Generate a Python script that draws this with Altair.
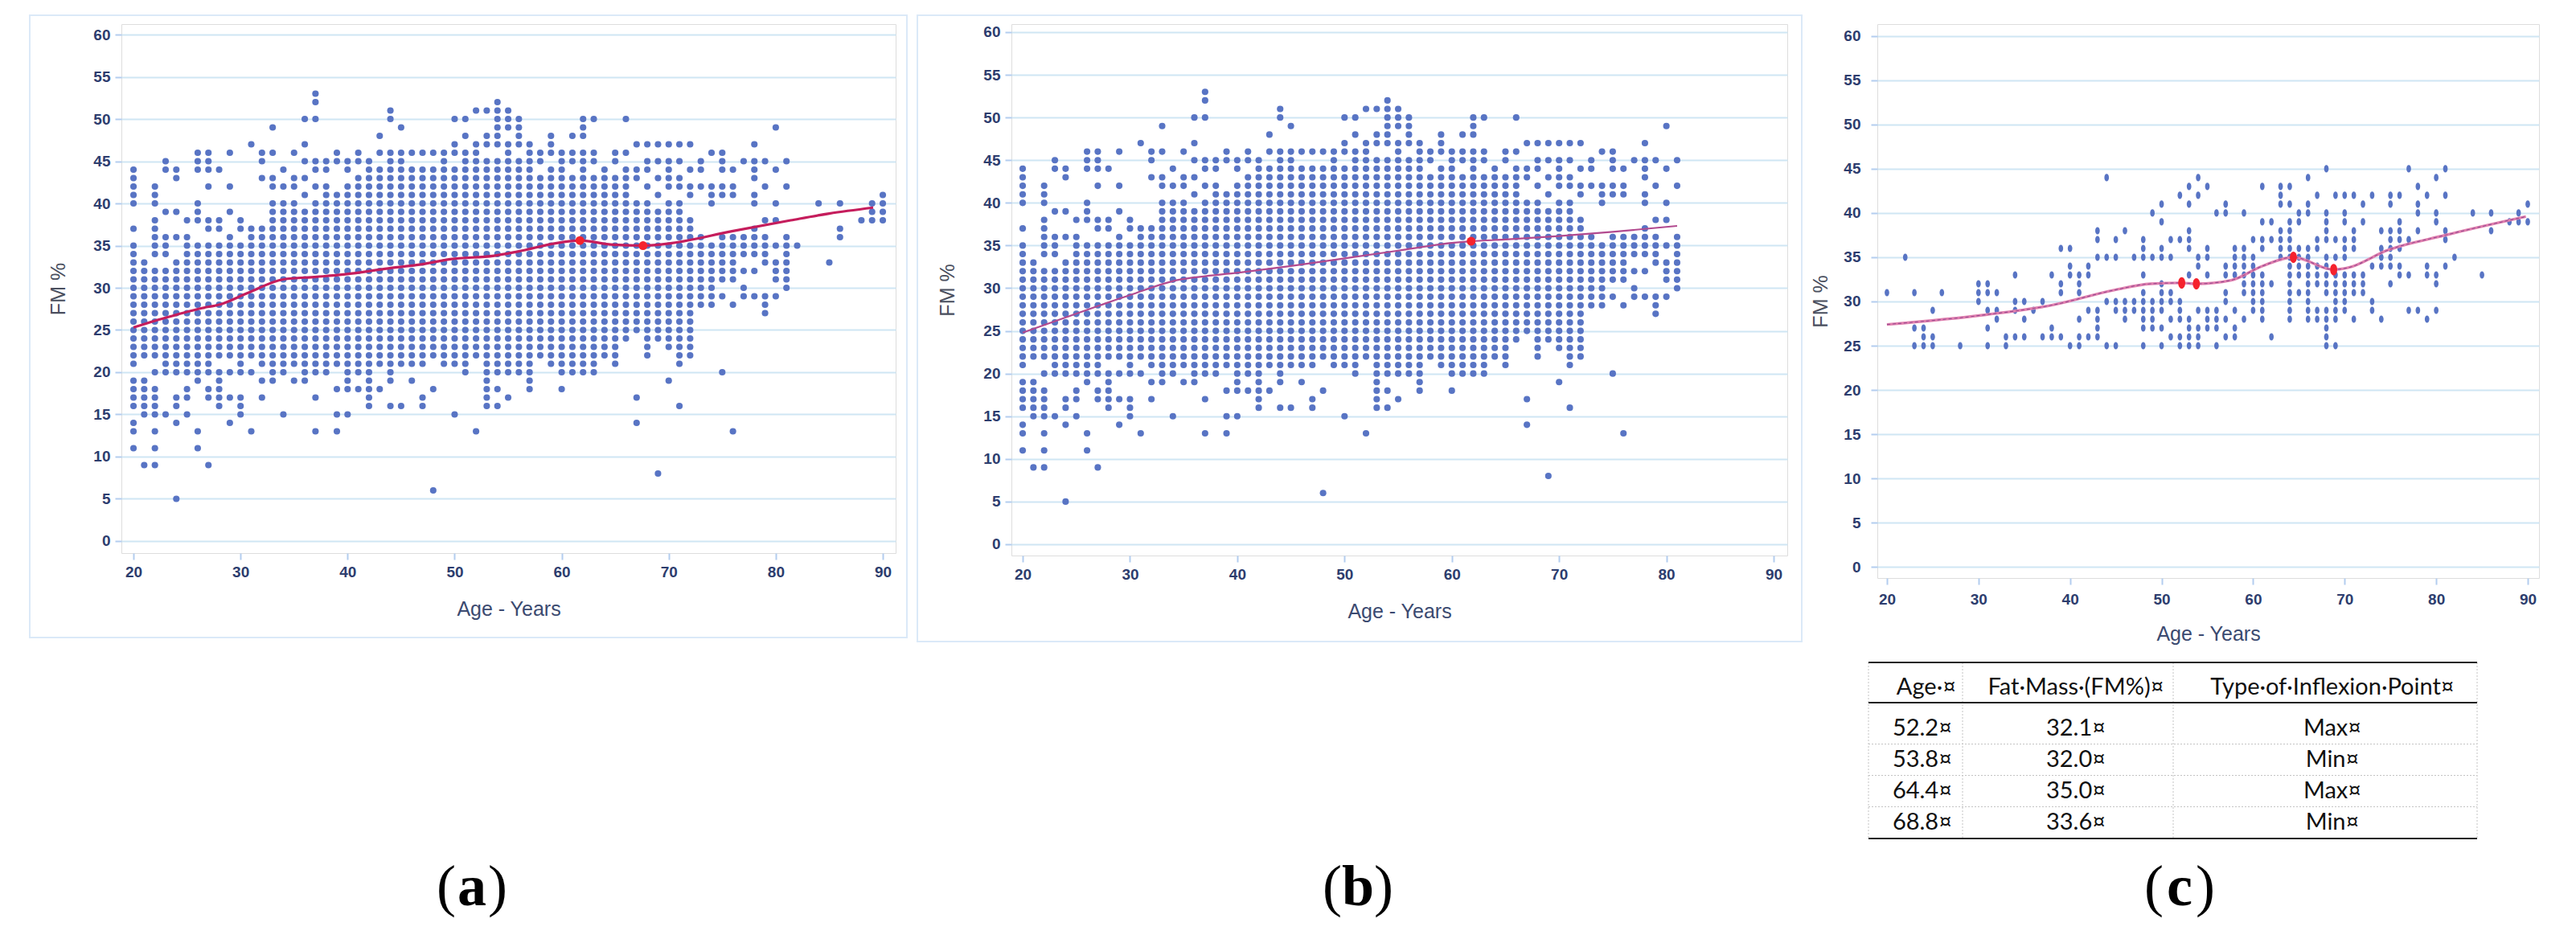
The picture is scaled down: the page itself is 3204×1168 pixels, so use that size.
import altair as alt
import pandas as pd

# ---------------- Panel (a) / (b) scatter, read per age column ----------------
AGES = list(range(20, 82)) + [82, 84, 85, 86, 88, 89, 90]
CORE_LO = [21, 22, 23, 21, 21, 21, 22, 23, 23, 23, 22, 23, 21, 20, 22, 21, 21, 21, 22, 21,
           21, 21, 19, 21, 21, 21, 22, 22, 22, 22, 22, 21, 23, 20, 22, 23, 21, 20, 22, 22,
           21, 22, 21, 21, 23, 22, 24, 25, 23, 24, 23, 22, 22, 28, 29, 31, 31, 34, 34, 33,
           31, 31] + [None] * 7
CORE_HI = [35, 33, 32, 32, 33, 36, 35, 35, 35, 36, 35, 37, 37, 40, 40, 40, 39, 40, 40, 41,
           42, 42, 44, 44, 45, 45, 44, 44, 44, 45, 44, 46, 45, 45, 45, 47, 45, 44, 43, 44,
           43, 43, 44, 43, 42, 42, 42, 40, 40, 39, 40, 40, 38, 36, 35, 36, 36, 36, 37, 36,
           33, 36] + [None] * 7
EXTRA = [
    [37, 40, 41, 42, 43, 44, 19, 18, 17, 16, 14, 13, 11],          # 20
    [19, 18, 17, 16, 15, 9],                                        # 21
    [34, 35, 36, 37, 38, 40, 41, 42, 22, 20, 18, 17, 16, 15, 13, 11, 9],
    [34, 35, 36, 39, 44, 45, 20, 15],
    [36, 39, 43, 44, 20, 17, 16, 14, 5],
    [38, 20, 18, 17, 15],                                           # 25
    [38, 39, 40, 44, 45, 46, 21, 20, 19, 13, 11],
    [37, 38, 42, 44, 45, 46, 22, 21, 20, 18, 17, 9],
    [37, 38, 44, 22, 20, 19, 18, 17, 16],
    [39, 42, 46, 22, 20, 17, 14],
    [37, 38, 21, 20, 17, 16, 15],                                   # 30
    [47, 22, 20, 13],
    [43, 45, 46, 19, 17],
    [42, 43, 46, 49, 19],
    [42, 44, 21, 20, 15],
    [42, 43, 46, 19],                                               # 35
    [41, 43, 45, 47, 50, 20, 19],
    [42, 44, 45, 50, 52, 53, 20, 17, 13],
    [41, 42, 44, 45, 21, 20],
    [45, 46, 18, 15, 13],
    [44, 45, 20, 19, 18, 15],                                       # 40
    [43, 45, 46, 20, 18],
    [45, 18, 17, 16],
    [46, 48, 18],
    [46, 50, 51, 20, 19, 16],
    [46, 49, 16],                                                   # 45
    [46, 21, 19],
    [46, 21, 17, 16],
    [46, 18, 6],
    [46, 21],
    [46, 47, 50, 21, 15],                                           # 50
    [48, 50, 20],
    [46, 47, 51, 22, 13],
    [47, 48, 51, 19, 18, 17, 16],
    [47, 48, 49, 50, 51, 52, 21, 20, 18, 16],
    [49, 50, 51, 22, 21, 20, 17],                                   # 55
    [47, 48, 49, 50, 20],
    [45, 46, 47, 19, 18],
    [45, 46],
    [46, 47, 48, 21],
    [44, 45, 46, 20, 18],                                           # 60
    [45, 46, 48, 21, 20],
    [45, 46, 48, 49, 50, 20],
    [45, 46, 50, 20],
    [43, 44, 22],
    [43, 45, 46, 21],                                               # 65
    [43, 44, 46, 50],
    [43, 44, 47, 17, 14],
    [42, 44, 45, 47, 22],
    [41, 43, 45, 47, 8],
    [42, 43, 44, 45, 47, 19],                                       # 70
    [42, 43, 45, 47, 21, 16],
    [41, 42, 44, 47],
    [42, 44, 45],
    [40, 41, 42, 46, 28],
    [41, 42, 44, 45, 46, 29, 20],                                   # 75
    [41, 42, 44, 28, 13],
    [45, 32, 30, 29],
    [40, 41, 43, 44, 45, 47, 32, 29],
    [38, 42, 45, 29, 28, 27],
    [35, 38, 40, 44, 49, 29],                                       # 80
    [42, 45, 30],
    [35],                                                           # 82
    [40],                                                           # 84
    [33],                                                           # 85
    [40, 37, 36],                                                   # 86
    [38],                                                           # 88
    [40, 39, 38],                                                   # 89
    [41, 40, 39, 38],                                               # 90
]
B_MAX_AGE = 81

# smoothed curves and inflexion points
LINE_A_AGE = [20, 22, 24, 26.4, 28, 30.7, 34, 37.1, 39.8, 43.8, 47, 49.6, 53.7, 55.9, 60,
              61.7, 64.8, 67.6, 70.3, 75.9, 81.4, 85, 89.1]
LINE_A_FM = [25.3, 26.1, 26.8, 27.6, 28.0, 29.4, 31.0, 31.3, 31.6, 32.3, 32.8, 33.4, 33.8,
             34.3, 35.4, 35.6, 35.1, 35.0, 35.3, 36.7, 38.0, 38.8, 39.5]
RED_A_AGE = [61.7, 67.6]
RED_A_FM = [35.6, 35.0]

LINE_B_AGE = [20, 27.2, 30, 34.6, 37, 40.6, 45, 50, 55, 60, 61.8, 65, 70, 75, 81]
LINE_B_FM = [24.8, 28.0, 29.2, 31.0, 31.4, 31.9, 32.6, 33.5, 34.4, 35.3, 35.5, 35.7, 36.1,
             36.6, 37.3]
RED_B_AGE = [61.8]
RED_B_FM = [35.5]

# ---------------- Panel (c) scatter, read per FM row ----------------
C_FM = [45, 44, 43, 42, 41, 40, 39, 38, 37, 36, 35, 34, 33, 32, 31, 30, 29, 28, 27, 26, 25]
C_AGES = [
    [68, 77, 81],
    [44, 54, 66, 80],
    [53, 55, 61, 63, 64, 78],
    [52, 54, 63, 67, 69, 70, 71, 73, 75, 76, 79, 81],
    [50, 53, 57, 63, 64, 66, 72, 75, 78, 90],
    [49, 56, 57, 59, 65, 66, 68, 70, 78, 80, 84, 86, 89],
    [50, 61, 62, 64, 65, 68, 70, 72, 76, 80, 88, 89, 90],
    [43, 46, 53, 63, 64, 68, 71, 74, 75, 76, 78, 81, 86],
    [43, 45, 48, 51, 52, 53, 60, 61, 62, 63, 64, 67, 68, 69, 70, 71, 75, 76, 77, 81],
    [39, 40, 48, 50, 53, 55, 58, 59, 61, 63, 64, 65, 66, 67, 70, 71, 74, 75, 76],
    [22, 43, 44, 45, 47, 48, 49, 50, 51, 54, 55, 58, 59, 60, 63, 64, 65, 66, 68, 69, 70, 74,
     75, 82],
    [40, 42, 54, 57, 58, 59, 60, 64, 65, 66, 67, 68, 73, 74, 75, 76, 79, 81],
    [34, 38, 40, 41, 42, 48, 53, 55, 57, 58, 59, 60, 61, 64, 65, 66, 67, 68, 69, 70, 71, 72,
     76, 77, 79, 80, 85],
    [30, 31, 39, 41, 50, 59, 60, 61, 62, 64, 66, 67, 68, 69, 70, 71, 72, 75, 80],
    [20, 23, 26, 30, 31, 32, 39, 41, 48, 50, 51, 57, 59, 60, 61, 64, 65, 66, 68, 69, 70, 71,
     72],
    [30, 34, 35, 37, 44, 45, 46, 47, 48, 49, 50, 51, 52, 57, 60, 61, 64, 66, 69, 70, 73],
    [25, 31, 32, 34, 36, 42, 43, 45, 46, 47, 48, 49, 50, 52, 54, 55, 56, 58, 60, 61, 64, 66,
     67, 68, 69, 70, 73, 77, 78, 80],
    [32, 35, 41, 43, 46, 48, 49, 51, 52, 53, 55, 56, 57, 59, 61, 64, 66, 67, 68, 69, 71, 74,
     79],
    [23, 24, 31, 38, 43, 48, 49, 50, 53, 54, 55, 56, 58, 68],
    [24, 25, 33, 34, 35, 37, 38, 39, 41, 42, 43, 51, 52, 53, 54, 57, 58, 62, 68],
    [23, 24, 25, 28, 31, 33, 40, 41, 44, 45, 48, 50, 52, 53, 54, 56, 68, 69],
]
LINE_C_AGE = [20, 30.8, 38.1, 44.9, 48.8, 52.2, 53.8, 57.6, 61, 64.4, 68.8, 70.3, 74.7, 81,
              89.8]
LINE_C_FM = [27.4, 28.5, 29.6, 31.3, 32.0, 32.1, 32.0, 32.4, 34.0, 35.0, 33.6, 33.8, 35.8,
             37.5, 39.6]

# table of inflexion points (panel c)
TABLE_HEAD = ["Age·¤", "Fat·Mass·(FM%)¤", "Type·of·Inflexion·Point¤"]
TABLE_AGE = [52.2, 53.8, 64.4, 68.8]
TABLE_FM = [32.1, 32.0, 35.0, 33.6]
TABLE_TYPE = ["Max", "Min", "Max", "Min"]

# ---------------- build data frames ----------------
rows = []
for age, lo, hi, extra in zip(AGES, CORE_LO, CORE_HI, EXTRA):
    vals = set(extra)
    if lo is not None:
        vals.update(range(lo, hi + 1))
    for v in sorted(vals):
        rows.append({"age": age, "fm": v})
df_a = pd.DataFrame(rows)
df_b = df_a[df_a["age"] <= B_MAX_AGE]
df_c = pd.DataFrame([{"age": a, "fm": fm} for fm, ages in zip(C_FM, C_AGES) for a in ages])

line_a = pd.DataFrame({"age": LINE_A_AGE, "fm": LINE_A_FM})
line_b = pd.DataFrame({"age": LINE_B_AGE, "fm": LINE_B_FM})
line_c = pd.DataFrame({"age": LINE_C_AGE, "fm": LINE_C_FM})
red_a = pd.DataFrame({"age": RED_A_AGE, "fm": RED_A_FM})
red_b = pd.DataFrame({"age": RED_B_AGE, "fm": RED_B_FM})
red_c = pd.DataFrame({"age": TABLE_AGE, "fm": TABLE_FM})
one = pd.DataFrame({"k": [0]})

# ---------------- styles ----------------
TICK_FONT = "Liberation Sans Narrow, Liberation Sans, Arial, sans-serif"
TITLE_FONT = "Liberation Sans, Arial, sans-serif"
DOT = "#5874c4"
GRID = "#cfe6f4"
FRAME = "#a9c6ee"
LABEL_COL = "#2d3d6e"
ELLIPSE = "M-0.62,0A0.62,1 0 1,1 0.62,0A0.62,1 0 1,1 -0.62,0Z"


def axes(xdom, ydom, w, h, ylab_pad, ytitle_x, xtitle_y, xlab_pad):
    x = alt.X("age:Q", scale=alt.Scale(domain=xdom, nice=False, zero=False),
              axis=alt.Axis(values=list(range(20, 91, 10)), title="Age - Years", grid=False,
                            domain=False, tickColor="#b3cdef", tickSize=8, tickWidth=2,
                            labelFont=TICK_FONT, labelFontSize=19, labelFontWeight="bold",
                            labelColor=LABEL_COL, labelPadding=xlab_pad,
                            titleFont=TITLE_FONT, titleFontSize=25, titleFontWeight="normal",
                            titleColor="#3b4a70", titleY=xtitle_y, titleX=w / 2,
                            titleBaseline="middle", titleAlign="center"))
    y = alt.Y("fm:Q", scale=alt.Scale(domain=ydom, nice=False, zero=False),
              axis=alt.Axis(values=list(range(0, 61, 5)), title="FM %", grid=True,
                            gridColor=GRID, gridWidth=2, domain=False,
                            tickColor="#b3cdef", tickSize=8, tickWidth=2,
                            labelFont=TICK_FONT, labelFontSize=19, labelFontWeight="bold",
                            labelColor=LABEL_COL, labelPadding=ylab_pad,
                            titleFont=TITLE_FONT, titleFontSize=25, titleFontWeight="normal",
                            titleColor="#4a4f5e", titleX=ytitle_x, titleY=h / 2,
                            titleAngle=-90, titleAlign="center", titleBaseline="middle"))
    return x, y


def label_layers(letter, cx, cy):
    common = dict(font="Liberation Serif, Times New Roman, serif", fontSize=72,
                  color="black", baseline="alphabetic")
    l1 = alt.Chart(one).mark_text(text="(", align="right", **common).encode(
        x=alt.value(cx - 20), y=alt.value(cy))
    l2 = alt.Chart(one).mark_text(text=letter, align="center", fontWeight="bold",
                                  **common).encode(x=alt.value(cx), y=alt.value(cy))
    l3 = alt.Chart(one).mark_text(text=")", align="left", **common).encode(
        x=alt.value(cx + 20), y=alt.value(cy))
    return [l1, l2, l3]


def scatter_panel(df, line_df, red_df, xdom, ydom, w, h, ylab_pad, ytitle_x, xtitle_y,
                  xlab_pad, dot_shape, dot_size, red_size, line_layers, frame, label):
    x, y = axes(xdom, ydom, w, h, ylab_pad, ytitle_x, xtitle_y, xlab_pad)
    layers = []
    if frame is not None:
        layers.append(alt.Chart(one).mark_rect(fillOpacity=0, stroke="#dbe9f8",
                                               strokeWidth=2).encode(
            x=alt.value(frame[0]), x2=alt.value(frame[1]),
            y=alt.value(frame[2]), y2=alt.value(frame[3])))
    pts = alt.Chart(df).mark_point(shape=dot_shape, filled=True, opacity=1, color=DOT,
                                   size=dot_size, strokeWidth=0).encode(x=x, y=y)
    layers.append(pts)
    for kw in line_layers:
        layers.append(alt.Chart(line_df).mark_line(interpolate="monotone", **kw).encode(
            x="age:Q", y="fm:Q"))
    layers.append(alt.Chart(red_df).mark_point(shape=dot_shape, filled=True, opacity=1,
                                               color="#f5222d", size=red_size,
                                               strokeWidth=0).encode(x="age:Q", y="fm:Q"))
    if label is not None:
        layers += label_layers(*label)
    return alt.layer(*layers).properties(width=w, height=h)


A = scatter_panel(df_a, line_a, red_a, [18.87, 91.2], [-1.43, 61.24], 963, 658,
                  6, -79, 69, 6, "circle", 66, 120,
                  [dict(color="#c51d5c", strokeWidth=3.2)],
                  (-114, 977, -11, 763), ("a", 436, 1096))
B = scatter_panel(df_b, line_b, red_b, [18.95, 91.27], [-1.32, 60.94], 965, 661,
                  6, -80, 69, 6, "circle", 66, 120,
                  [dict(color="#b24a8f", strokeWidth=2.2)],
                  (-117, 983, -11, 768), ("b", 431, 1096))
C = scatter_panel(df_c, line_c, red_c, [18.95, 91.23], [-1.27, 61.36], 823, 689,
                  13, -71, 69, 9, ELLIPSE, 85, 200,
                  [dict(color="#e07fae", strokeWidth=3.4),
                   dict(color="#9b4f93", strokeWidth=1.2, strokeDash=[4, 3])],
                  None, None)

# ---------------- table under panel (c) ----------------
TW, TH = 746, 219
tdf = pd.DataFrame({
    "row": [1, 2, 3, 4],
    "c1": [f"{v:.1f}¤" for v in TABLE_AGE],
    "c2": [f"{v:.1f}¤" for v in TABLE_FM],
    "c3": [f"{t}¤" for t in TABLE_TYPE],
})
sep = pd.DataFrame({"row": [1.5, 2.5, 3.5]})
row_scale = alt.Scale(domain=[-43 / 39, (TH - 43) / 39], reverse=True, nice=False,
                      zero=False)
TFONT = "Lato, Open Sans, sans-serif"
tl = []
for xv in [-11, 106, 368, TW]:
    tl.append(alt.Chart(one).mark_rule(color="#c4c4c4", strokeWidth=1,
                                       strokeDash=[2, 2]).encode(
        x=alt.value(xv), y=alt.value(0), y2=alt.value(TH)))
tl.append(alt.Chart(sep).mark_rule(color="#c4c4c4", strokeWidth=1, strokeDash=[2, 2]).encode(
    y=alt.Y("row:Q", scale=row_scale, axis=None), x=alt.value(-11), x2=alt.value(TW)))
for yv in [0, 50, TH]:
    tl.append(alt.Chart(one).mark_rule(color="#222222", strokeWidth=2.2).encode(
        x=alt.value(-11), x2=alt.value(TW), y=alt.value(yv)))
for txt, xv, al in zip(TABLE_HEAD, [98, 247, 566], ["right", "center", "center"]):
    tl.append(alt.Chart(one).mark_text(text=txt, align=al, baseline="middle", font=TFONT,
                                       fontSize=29, color="#111").encode(
        x=alt.value(xv), y=alt.value(31)))
for col, xv, al in zip(["c1", "c2", "c3"], [93, 247, 566], ["right", "center", "center"]):
    tl.append(alt.Chart(tdf).mark_text(align=al, baseline="middle", font=TFONT,
                                       fontSize=29, color="#111").encode(
        x=alt.value(xv), y=alt.Y("row:Q", scale=row_scale, axis=None),
        text=alt.Text(f"{col}:N")))
tl += label_layers("c", 376, 302)
T = alt.layer(*tl).properties(width=TW, height=TH,
                              view=alt.ViewBackground(stroke="transparent"))


def spacer(w):
    return alt.Chart(one).mark_point(opacity=0).encode(
        x=alt.value(0), y=alt.value(0)).properties(
        width=w, height=10, view=alt.ViewBackground(stroke="transparent"))


CT = alt.vconcat(C, T, spacing=105, bounds="flush")
# gaps between plot areas: A->B 144 px, B->C 112 px  (2*40 spacing + spacer)
chart = alt.hconcat(A, spacer(64), B, spacer(32), CT, spacing=40, bounds="flush").properties(
    padding={"left": 27, "top": 9, "right": 10, "bottom": 10}
).configure_view(stroke=FRAME, strokeWidth=2).configure(background="white")

chart.save("out.html", embed_options={"renderer": "svg", "actions": False})
